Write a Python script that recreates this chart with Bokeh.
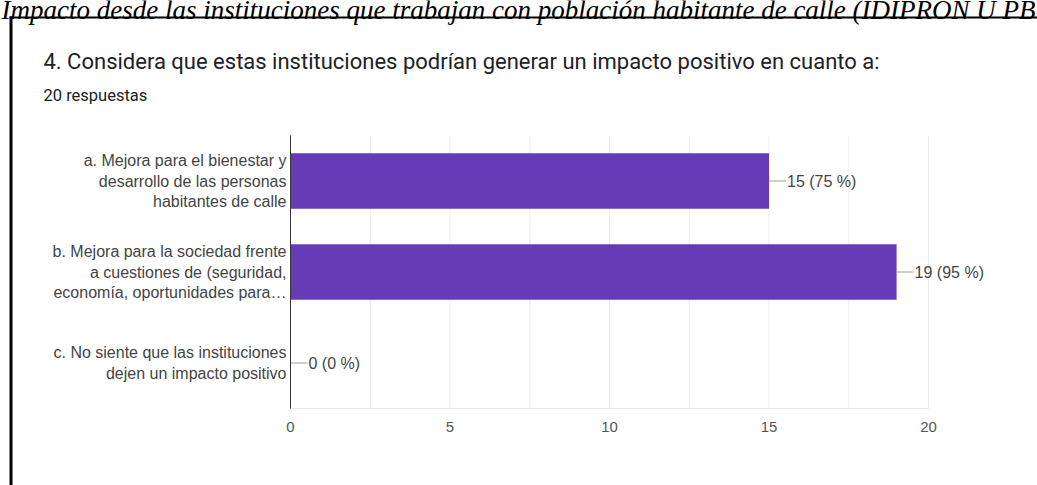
from bokeh.plotting import figure
from bokeh.models import (Range1d, Label, FixedTicker, ColumnDataSource, BoxAnnotation)
from bokeh.embed import file_html
from bokeh.resources import INLINE

# ---- data ----
header = "Impacto desde las instituciones que trabajan con población habitante de calle (IDIPRON U PBC)"
question = "4. Considera que estas instituciones podrían generar un impacto positivo en cuanto a:"
responses = "20 respuestas"
categories = [
    "a. Mejora para el bienestar y\ndesarrollo de las personas\nhabitantes de calle",
    "b. Mejora para la sociedad frente\na cuestiones de (seguridad,\neconomía, oportunidades para…",
    "c. No siente que las instituciones\ndejen un impacto positivo",
]
counts = [15, 19, 0]
percents = [75, 95, 0]
x_ticks = [0, 5, 10, 15, 20]
grid_ticks = [0, 2.5, 5, 7.5, 10, 12.5, 15, 17.5, 20]

W, H = 1037, 485

# ---- layout of the chart area inside the canvas (pixels) ----
AREA_L, AREA_R, AREA_T, AREA_B = 290, 928, 135, 408
n = len(categories)
slots = [n - i for i in range(n)]            # category centres, top first
band_lo, band_hi = 0.5, n + 0.5
xmax = x_ticks[-1]
px_x = (AREA_R - AREA_L) / xmax
px_y = (AREA_B - AREA_T) / (band_hi - band_lo)

p = figure(width=W, height=H, output_backend="svg", toolbar_location=None,
           x_range=Range1d(-AREA_L / px_x, xmax + (W - AREA_R) / px_x),
           y_range=Range1d(band_lo - (H - AREA_B) / px_y, band_hi + AREA_T / px_y),
           min_border=0, min_border_left=0, min_border_right=0,
           min_border_top=0, min_border_bottom=0)
p.outline_line_color = None
p.background_fill_color = "white"
p.border_fill_color = "white"
p.xgrid.grid_line_color = None
p.ygrid.grid_line_color = None

# light vertical gridlines restricted to the category band
p.segment(x0=grid_ticks, x1=grid_ticks, y0=band_lo, y1=band_hi,
          line_color="#ececec", line_width=1)

src = ColumnDataSource(dict(y=slots, count=counts))
p.hbar(y="y", right="count", left=0, height=0.61, source=src,
       fill_color="#673ab7", line_color=None)
p.ray(x="count", y="y", length=17, length_units="screen", angle=0,
      line_color="#9e9e9e", line_width=1, source=src)
for c, pc, yv in zip(counts, percents, slots):
    p.add_layout(Label(x=c, y=yv, x_offset=18, text=f"{c} ({pc} %)",
                       text_baseline="middle", text_align="left",
                       text_font_size="16px", text_color="#444444",
                       text_font="Liberation Sans"))

# x axis, fixed at the bottom of the category band
xa = p.xaxis[0]
xa.fixed_location = band_lo
xa.bounds = (0, xmax)
xa.ticker = FixedTicker(ticks=x_ticks)
xa.axis_line_color = "#e6e6e6"
xa.major_tick_line_color = None
xa.minor_tick_line_color = None
xa.major_tick_out = 0
xa.major_tick_in = 0
xa.major_label_text_font = "Liberation Sans"
xa.major_label_text_font_size = "15px"
xa.major_label_text_color = "#555555"
xa.major_label_standoff = 13

# y axis (categories), fixed at x = 0
ya = p.yaxis[0]
ya.fixed_location = 0
ya.bounds = (band_lo, band_hi)
ya.ticker = FixedTicker(ticks=slots)
overrides = {}
for yv, cat in zip(slots, categories):
    overrides[yv] = cat
    overrides[str(yv)] = cat
ya.major_label_overrides = overrides
ya.axis_line_color = "#333333"
ya.axis_line_width = 1
ya.major_tick_line_color = None
ya.minor_tick_line_color = None
ya.major_tick_out = 0
ya.major_tick_in = 0
ya.major_label_text_font = "Liberation Sans"
ya.major_label_text_font_size = "16px"
ya.major_label_text_color = "#444444"
ya.major_label_standoff = 4
ya.major_label_text_align = "right"

# texts above the chart (canvas units, y measured from the top)
p.add_layout(Label(x=1, y=9, x_units="canvas", y_units="canvas", text=header,
                   text_font="Liberation Serif", text_font_style="italic",
                   text_font_size="27px", text_color="#000000", text_baseline="alphabetic"))
p.add_layout(Label(x=43, y=61, x_units="canvas", y_units="canvas", text=question,
                   text_font="Roboto", text_font_size="22px",
                   text_color="#202124", text_baseline="alphabetic"))
p.add_layout(Label(x=43, y=95, x_units="canvas", y_units="canvas", text=responses,
                   text_font="Roboto", text_font_size="16.5px",
                   text_color="#202124", text_baseline="alphabetic"))

# black border lines of the screenshot box
for l, r, t, b in ((9, W, 16, 18), (9, 12, 16, H)):
    p.add_layout(BoxAnnotation(left=l, right=r, top=t, bottom=b,
                               left_units="canvas", right_units="canvas",
                               top_units="canvas", bottom_units="canvas",
                               fill_color="black", fill_alpha=1, line_color=None,
                               line_alpha=0))

open("out.html", "w").write(file_html(p, INLINE))
